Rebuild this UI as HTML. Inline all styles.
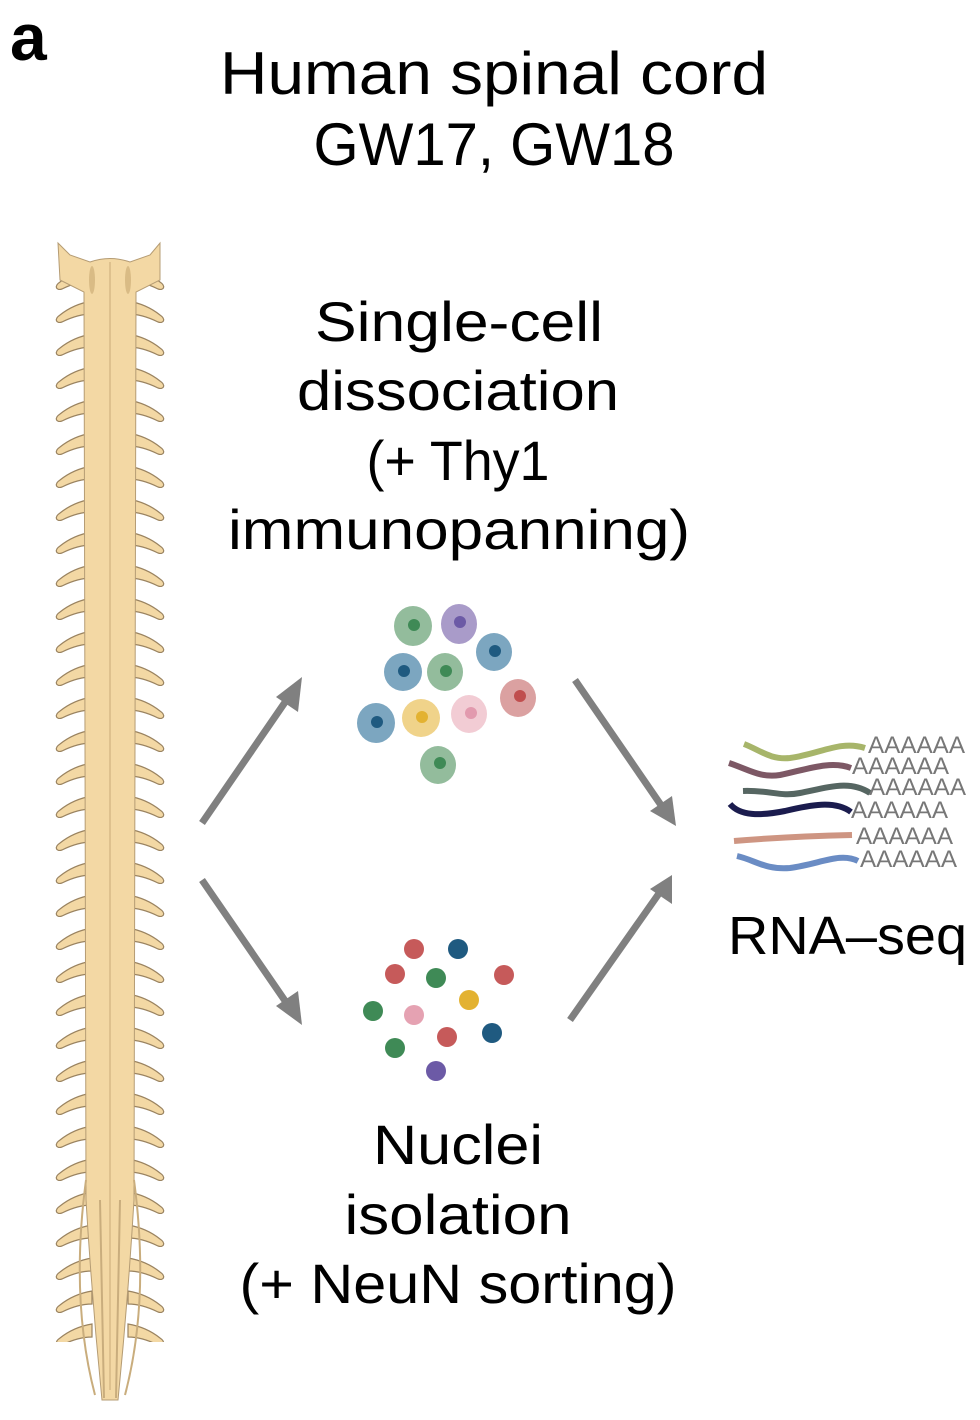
<!DOCTYPE html>
<html><head><style>
body{margin:0;width:980px;height:1420px;background:#fff;overflow:hidden}
svg{display:block}
text{font-family:"Liberation Sans",sans-serif}
</style></head><body>
<svg width="980" height="1420" viewBox="0 0 980 1420">
<defs>
<pattern id="br" x="0" y="262" width="220" height="33" patternUnits="userSpaceOnUse">
<path d="M92 6 C80 8 70 12 60 20 C54 24 56 29 62 27 C72 22 82 19 92 19 Z" fill="#f3d8a4" stroke="#9a8360" stroke-width="1.2"/>
<path d="M128 6 C140 8 150 12 160 20 C166 24 164 29 158 27 C148 22 138 19 128 19 Z" fill="#f3d8a4" stroke="#9a8360" stroke-width="1.2"/>
</pattern>
</defs>
<text x="10" y="60" font-size="66" font-weight="bold">a</text>
<g text-anchor="middle" lengthAdjust="spacingAndGlyphs">
<text x="494" y="94" font-size="60" textLength="548" lengthAdjust="spacingAndGlyphs">Human spinal cord</text>
<text x="494" y="165" font-size="60" textLength="361" lengthAdjust="spacingAndGlyphs">GW17, GW18</text>
<text x="459" y="341" font-size="56" textLength="288" lengthAdjust="spacingAndGlyphs">Single-cell</text>
<text x="458" y="410" font-size="56" textLength="322" lengthAdjust="spacingAndGlyphs">dissociation</text>
<text x="458" y="480" font-size="56" textLength="183" lengthAdjust="spacingAndGlyphs">(+ Thy1</text>
<text x="459" y="549" font-size="56" textLength="462" lengthAdjust="spacingAndGlyphs">immunopanning)</text>
<text x="458" y="1164" font-size="56" textLength="170" lengthAdjust="spacingAndGlyphs">Nuclei</text>
<text x="458" y="1234" font-size="56" textLength="227" lengthAdjust="spacingAndGlyphs">isolation</text>
<text x="458" y="1303" font-size="56" textLength="437" lengthAdjust="spacingAndGlyphs">(+ NeuN sorting)</text>
</g>
<text x="728" y="954" font-size="54" textLength="239" lengthAdjust="spacingAndGlyphs">RNA–seq</text>
<!-- spinal cord -->
<rect x="50" y="262" width="120" height="1080" fill="url(#br)"/>
<path d="M58 243 L70 255 L90 262 Q110 255 130 262 L150 255 L160 243 L160 280 L136 292 L134 1200 Q128 1300 118 1400 L102 1400 Q92 1300 86 1200 L84 292 L60 280 Z" fill="#f3d8a4" stroke="#b59c74" stroke-width="1"/>
<g fill="#d9bb85">
<ellipse cx="92" cy="280" rx="3" ry="14"/><ellipse cx="128" cy="280" rx="3" ry="14"/>
</g>
<path d="M86 1180 Q70 1300 95 1395 M134 1180 Q150 1300 125 1395 M100 1200 L104 1398 M120 1200 L116 1398" stroke="#c9ad7d" stroke-width="2" fill="none"/>
<line x1="110" y1="262" x2="110" y2="1390" stroke="#d7b987" stroke-width="1.5"/>
<!-- arrows -->
<g stroke="#808080" stroke-width="7" fill="#808080">
<line x1="202" y1="823" x2="290" y2="695"/>
<line x1="202" y1="880" x2="290" y2="1008"/>
<line x1="575" y1="680" x2="663" y2="808"/>
<line x1="570" y1="1020" x2="660" y2="892"/>
</g>
<g fill="#808080">
<polygon points="302,677 298,712 276,697"/>
<polygon points="302,1025 276,1006 298,991"/>
<polygon points="676,826 650,811 672,796"/>
<polygon points="672,875 672,904 650,889"/>
</g>
<!-- cells -->
<g>
<ellipse cx="413" cy="626" rx="19" ry="20" fill="#93bc9c"/><circle cx="414" cy="625" r="6" fill="#3f8a56"/>
<ellipse cx="459" cy="624" rx="18" ry="20" fill="#a99bc9"/><circle cx="460" cy="622" r="6" fill="#6c5aa6"/>
<ellipse cx="494" cy="652" rx="18" ry="19" fill="#7ca6c0"/><circle cx="495" cy="651" r="6" fill="#1f5a80"/>
<ellipse cx="403" cy="672" rx="19" ry="19" fill="#7ca6c0"/><circle cx="404" cy="671" r="6" fill="#1f5a80"/>
<ellipse cx="445" cy="672" rx="18" ry="19" fill="#93bc9c"/><circle cx="446" cy="671" r="6" fill="#3f8a56"/>
<ellipse cx="518" cy="698" rx="18" ry="19" fill="#dba1a1"/><circle cx="520" cy="696" r="6" fill="#c04e4e"/>
<ellipse cx="376" cy="723" rx="19" ry="20" fill="#7ca6c0"/><circle cx="377" cy="722" r="6" fill="#1f5a80"/>
<ellipse cx="421" cy="718" rx="19" ry="19" fill="#f0d38a"/><circle cx="422" cy="717" r="6" fill="#e3b231"/>
<ellipse cx="469" cy="714" rx="18" ry="19" fill="#f2ccd4"/><circle cx="471" cy="713" r="6" fill="#e29aae"/>
<ellipse cx="438" cy="765" rx="18" ry="19" fill="#93bc9c"/><circle cx="440" cy="763" r="6" fill="#3f8a56"/>
</g>
<!-- nuclei -->
<g>
<circle cx="414" cy="949" r="10" fill="#c65a5a"/>
<circle cx="458" cy="949" r="10" fill="#1f5a80"/>
<circle cx="395" cy="974" r="10" fill="#c65a5a"/>
<circle cx="436" cy="978" r="10" fill="#3f8a56"/>
<circle cx="504" cy="975" r="10" fill="#c65a5a"/>
<circle cx="469" cy="1000" r="10" fill="#e3b231"/>
<circle cx="373" cy="1011" r="10" fill="#3f8a56"/>
<circle cx="414" cy="1015" r="10" fill="#e5a2b2"/>
<circle cx="447" cy="1037" r="10" fill="#c65a5a"/>
<circle cx="492" cy="1033" r="10" fill="#1f5a80"/>
<circle cx="395" cy="1048" r="10" fill="#3f8a56"/>
<circle cx="436" cy="1071" r="10" fill="#6c5aa6"/>
</g>
<!-- RNA -->
<g fill="none" stroke-width="6" stroke-linecap="butt">
<path d="M744 744 C760 750 770 760 790 758 C820 754 840 740 865 748" stroke="#a7b56a"/>
<path d="M729 763 C750 770 760 778 780 775 C805 770 830 760 851 768" stroke="#7d5865"/>
<path d="M743 791 C770 790 780 797 800 793 C830 787 850 780 870 793" stroke="#566662"/>
<path d="M730 804 C740 816 760 816 785 811 C810 805 835 800 851 812" stroke="#1b1c4e"/>
<path d="M734 841 C770 838 810 836 852 835" stroke="#ce9582"/>
<path d="M737 856 C755 860 765 870 790 868 C820 864 840 852 858 861" stroke="#6a8cc4"/>
</g>
<g font-size="24" fill="#777">
<text x="868" y="753" textLength="97" lengthAdjust="spacingAndGlyphs">AAAAAA</text>
<text x="852" y="774" textLength="97" lengthAdjust="spacingAndGlyphs">AAAAAA</text>
<text x="869" y="795" textLength="97" lengthAdjust="spacingAndGlyphs">AAAAAA</text>
<text x="851" y="818" textLength="97" lengthAdjust="spacingAndGlyphs">AAAAAA</text>
<text x="856" y="844" textLength="97" lengthAdjust="spacingAndGlyphs">AAAAAA</text>
<text x="860" y="867" textLength="97" lengthAdjust="spacingAndGlyphs">AAAAAA</text>
</g>
</svg>
</body></html>
